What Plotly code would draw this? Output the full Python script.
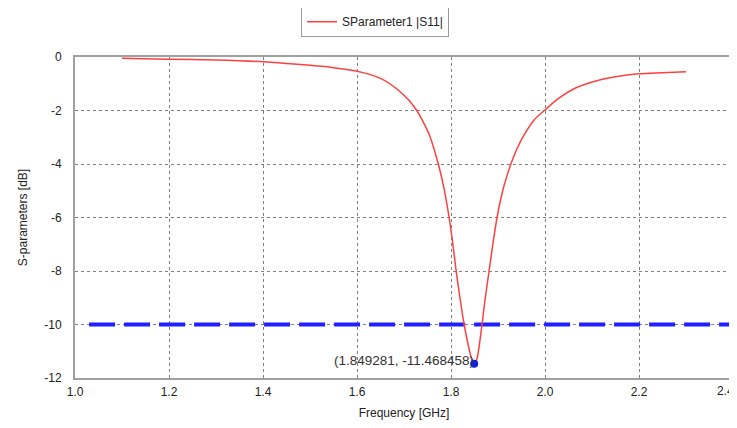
import plotly.graph_objects as go

freq = [1.10, 1.20, 1.30, 1.35, 1.40, 1.45, 1.50, 1.525, 1.55, 1.575, 1.60, 1.625, 1.65, 1.67,
        1.69, 1.71, 1.727, 1.74, 1.755, 1.773, 1.785, 1.796, 1.804, 1.811, 1.819, 1.828,
        1.837, 1.844, 1.849281, 1.855, 1.860, 1.866, 1.873, 1.881, 1.889, 1.898, 1.910,
        1.918, 1.927, 1.94, 1.954, 1.976, 2.00, 2.029, 2.065, 2.114, 2.157, 2.20, 2.249, 2.30]
s11 = [-0.05, -0.08, -0.11, -0.14, -0.18, -0.24, -0.31, -0.35, -0.40, -0.46, -0.53, -0.64, -0.80, -1.00,
       -1.27, -1.61, -2.0, -2.4, -2.96, -4.0, -4.9, -6.0, -7.0, -8.0, -9.0, -10.0,
       -10.8, -11.3, -11.468458, -11.3, -10.8, -10.0, -9.0, -8.0, -7.0, -6.0, -5.0,
       -4.5, -4.02, -3.45, -2.96, -2.37, -1.98, -1.55, -1.16, -0.87, -0.72, -0.63, -0.59, -0.55]

ref_x = [1.03, 2.4]
ref_y = [-10, -10]

marker_x = [1.849281]
marker_y = [-11.468458]
marker_label = "(1.849281, -11.468458)"

x_ticks = [1.0, 1.2, 1.4, 1.6, 1.8, 2.0, 2.2, 2.4]
y_ticks = [0, -2, -4, -6, -8, -10, -12]

FONT = "Liberation Sans, Arial"

fig = go.Figure()
fig.add_trace(go.Scatter(x=ref_x, y=ref_y, mode="lines", showlegend=False,
                         line=dict(color="#1f1fff", width=4, dash="26px,9px")))
fig.add_trace(go.Scatter(x=freq, y=s11, mode="lines", name="SParameter1 |S11|",
                         line=dict(color="#ff4040", width=1.5, shape="spline", smoothing=0.8)))
fig.add_trace(go.Scatter(x=marker_x, y=marker_y, mode="markers", showlegend=False,
                         marker=dict(color="#1020e0", size=8)))
fig.add_annotation(x=marker_x[0], y=marker_y[0], text=marker_label, showarrow=False,
                   xanchor="right", yanchor="middle", xshift=2, yshift=3,
                   font=dict(family=FONT, size=13.5, color="#333333"))

# last x tick label, placed right-aligned so it stays inside the page
x_ticktext = [f"{v:.1f}" for v in x_ticks]
last_label = x_ticktext[-1]
x_ticktext[-1] = ""
fig.add_annotation(x=1, xref="paper", y=0, yref="paper", text=last_label,
                   showarrow=False, xanchor="right", yanchor="top", xshift=2, yshift=-5,
                   borderpad=0, font=dict(family=FONT, size=12, color="#222222"))

axis_common = dict(showgrid=True, gridcolor="#808080", griddash="dot", gridwidth=1,
                   showline=True, linecolor="#a0a0a0", linewidth=2, mirror=True,
                   zeroline=False, ticks="", tickfont=dict(family=FONT, size=12, color="#222222"))

fig.update_xaxes(range=[1.0, 2.4], tickvals=x_ticks, ticktext=x_ticktext,
                 title=dict(text="Frequency [GHz]", standoff=10,
                            font=dict(family=FONT, size=12, color="#222222")),
                 ticklabelstandoff=2, **axis_common)
fig.update_yaxes(range=[-12, 0], tickvals=y_ticks, ticktext=[str(v) for v in y_ticks],
                 title=dict(text="S-parameters [dB]", standoff=14,
                            font=dict(family=FONT, size=12, color="#222222")),
                 ticklabelstandoff=9, **axis_common)

fig.update_layout(
    width=729, height=420,
    margin=dict(l=67, r=4, t=49, b=50, autoexpand=False),
    plot_bgcolor="white", paper_bgcolor="white",
    showlegend=True,
    legend=dict(x=0.456, y=1.11, xanchor="center", yanchor="middle",
                bordercolor="#9a9a9a", borderwidth=1, bgcolor="white",
                font=dict(family=FONT, size=12, color="#222222")),
)

fig.write_html("out.html")
